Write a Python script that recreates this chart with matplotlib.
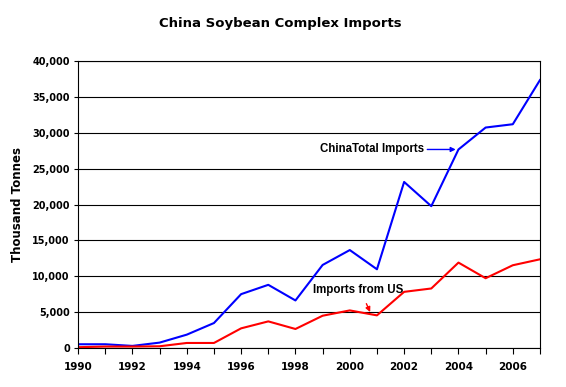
import matplotlib
matplotlib.use('Agg')
import matplotlib.pyplot as plt
from matplotlib.ticker import FuncFormatter, MultipleLocator

years = list(range(1990, 2008))
total_imports = [510, 510, 280, 740, 1850, 3470, 7500, 8800, 6620, 11570,
                 13650, 10970, 23150, 19770, 27680, 30740, 31200, 37360]
us_imports = [100, 190, 190, 230, 690, 690, 2730, 3700, 2640, 4490,
              5230, 4540, 7820, 8290, 11900, 9720, 11530, 12360]

plt.rcParams['font.family'] = ['DejaVu Sans']

fig = plt.figure(figsize=(5.66, 3.87), dpi=100)
ax = fig.add_axes([0.138, 0.101, 0.816, 0.741])

ax.plot(years, total_imports, color='#0000ff', lw=1.5)
ax.plot(years, us_imports, color='#ff0000', lw=1.5)

ax.set_xlim(1990, 2007)
ax.set_ylim(0, 40000)
ax.yaxis.set_major_locator(MultipleLocator(5000))
ax.yaxis.set_major_formatter(FuncFormatter(lambda v, p: '{:,.0f}'.format(v)))
ax.xaxis.set_major_locator(MultipleLocator(2))
ax.xaxis.set_minor_locator(MultipleLocator(1))
ax.xaxis.set_major_formatter(FuncFormatter(lambda v, p: '{:.0f}'.format(v)))
ax.grid(axis='y', color='black', lw=0.8)
ax.set_axisbelow(True)

for s in ax.spines.values():
    s.set_color('black')
    s.set_linewidth(0.8)

ax.tick_params(axis='x', which='both', direction='out', length=4,
               width=0.8, labelsize=7.5, pad=6)
ax.tick_params(axis='y', direction='out', length=3, width=0.8,
               labelsize=7, pad=3)
for lab in ax.get_xticklabels() + ax.get_yticklabels():
    lab.set_fontweight('bold')

ax.set_ylabel('Thousand Tonnes', fontsize=8.5, fontweight='bold',
              labelpad=6)
fig.text(0.495, 0.94, 'China Soybean Complex Imports', ha='center',
         va='center', fontsize=9.5, fontweight='bold')

ax.annotate('ChinaTotal Imports', xy=(years[14], total_imports[14]),
            xytext=(2002.75, total_imports[14]), fontsize=8.3,
            family='Liberation Sans', fontweight='bold',
            va='center', ha='right',
            arrowprops=dict(arrowstyle='-|>', color='#0000ff', lw=1,
                            mutation_scale=7, shrinkA=0, shrinkB=2))
ax.annotate('Imports from US', xy=(2000.75, 5000),
            xytext=(1998.65, 8100), fontsize=8.3,
            family='Liberation Sans', fontweight='bold',
            va='center', ha='left',
            arrowprops=dict(arrowstyle='-|>', color='#ff0000', lw=1,
                            mutation_scale=7, shrinkA=4, shrinkB=0,
                            relpos=(0.55, 0)))

fig.savefig('out.png', dpi=100)
